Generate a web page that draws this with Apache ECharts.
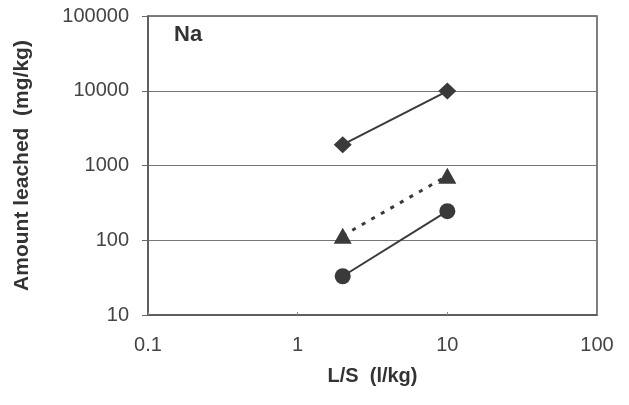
<!DOCTYPE html>
<html>
<head>
<meta charset="utf-8">
<script src="https://cdn.jsdelivr.net/npm/echarts@6/dist/echarts.min.js"></script>
<style>html,body{margin:0;padding:0;background:#fff}#c{width:629px;height:405px}</style>
</head>
<body>
<div id="c"></div>
<script>
const lsValues = [2, 10];
const diamondValues = [1900, 9900];
const triangleValues = [115, 730];
const circleValues = [33, 245];
const xTicks = [0.1, 1, 10, 100];
const yTicks = [10, 100, 1000, 10000, 100000];

const chart = echarts.init(document.getElementById('c'));
const col = '#3a3a3a';
function pairs(v){ return lsValues.map((x,i)=>[x, v[i]]); }
chart.setOption({
  backgroundColor: '#fff',
  animation: false,
  grid: {left: 148, right: 32, top: 16, bottom: 90, show: true, borderColor: '#555', borderWidth: 1.5},
  title: {text: 'Na', left: 169, top: 19, textStyle: {fontFamily: 'Liberation Sans', fontSize: 22, fontWeight: 'bold', color: '#333'}},
  xAxis: {
    type: 'log', logBase: 10, min: 0.1, max: 100,
    name: 'L/S  (l/kg)', nameLocation: 'middle', nameGap: 51,
    nameTextStyle: {fontFamily: 'Liberation Sans', fontSize: 20, fontWeight: 'bold', color: '#333'},
    axisLine: {lineStyle: {color: '#555', width: 1.5}},
    axisTick: {show: true, inside: true, length: 3, lineStyle: {color: '#888'}},
    splitLine: {show: false},
    minorTick: {show: false},
    axisLabel: {margin: 20, fontFamily: 'Liberation Sans', fontSize: 20, color: '#444',
      formatter: v => { const t = xTicks.find(k => Math.abs(k - v) / k < 1e-6); return t === undefined ? '' : String(t); }}
  },
  yAxis: {
    type: 'log', logBase: 10, min: 10, max: 100000,
    name: 'Amount leached  (mg/kg)', nameLocation: 'middle', nameGap: 115,
    nameTextStyle: {fontFamily: 'Liberation Sans', fontSize: 21, fontWeight: 'bold', color: '#333'},
    axisLine: {show: true, lineStyle: {color: '#555', width: 1.5}},
    axisTick: {show: true, length: 6, lineStyle: {color: '#666'}},
    splitLine: {show: true, lineStyle: {color: '#777', width: 1}},
    axisLabel: {margin: 19, fontFamily: 'Liberation Sans', fontSize: 20, color: '#444',
      formatter: v => { const t = yTicks.find(k => Math.abs(k - v) / k < 1e-6); return t === undefined ? '' : String(t); }}
  },
  series: [
    {type: 'line', data: pairs(diamondValues), symbol: 'diamond', symbolSize: [18, 17],
      lineStyle: {color: col, width: 2}, itemStyle: {color: col}},
    {type: 'line', data: pairs(triangleValues), symbol: 'triangle', symbolSize: [18, 16],
      lineStyle: {color: col, width: 3, type: [4, 7]}, itemStyle: {color: col}},
    {type: 'line', data: pairs(circleValues), symbol: 'circle', symbolSize: 16,
      lineStyle: {color: col, width: 2}, itemStyle: {color: col}}
  ]
});
</script>
</body>
</html>
